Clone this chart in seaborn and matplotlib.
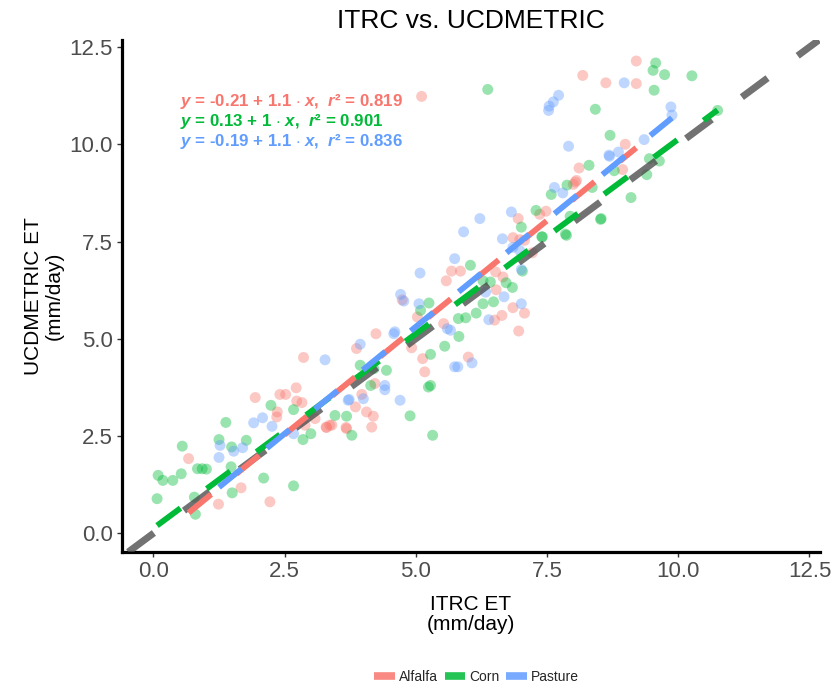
import matplotlib
matplotlib.use("Agg")
import matplotlib.pyplot as plt
from matplotlib.lines import Line2D
import seaborn as sns
import pandas as pd
import numpy as np

# ---------------- data ----------------
crops = ["Alfalfa", "Corn", "Pasture"]
colors = ["#F8766D", "#00BA38", "#619CFF"]

alfalfa_x = [0.67, 1.24, 1.67, 2.22, 1.94, 2.41, 2.52, 2.72, 2.73, 2.83, 2.36, 2.35, 2.89, 3.08, 3.30,
             3.40, 3.68, 5.03, 4.24, 3.87, 2.86, 5.13, 5.17, 4.92, 4.22, 3.97, 3.85, 4.06, 4.19, 4.16,
             3.67, 3.29, 3.36, 4.74, 6.85, 7.07, 7.22, 5.68, 5.85, 6.52, 6.66, 5.58, 6.53, 6.85, 7.07,
             6.50, 6.64, 5.53, 6.96, 6.00, 8.11, 8.06, 8.00, 7.48, 7.36, 6.95, 6.98, 9.20, 8.18, 8.62,
             9.20, 8.99, 8.94, 8.04, 5.11]
alfalfa_y = [1.92, 0.75, 1.17, 0.81, 3.49, 3.57, 3.57, 3.74, 3.40, 3.36, 3.12, 2.99, 2.78, 2.95, 2.72,
             2.78, 2.69, 5.56, 5.13, 4.75, 4.52, 4.49, 4.15, 4.77, 3.85, 3.57, 3.25, 3.12, 3.01, 2.73,
             2.72, 2.73, 2.78, 6.00, 7.60, 7.53, 7.21, 6.74, 6.74, 6.72, 6.59, 6.49, 6.26, 5.80, 5.66,
             5.48, 5.60, 5.39, 5.20, 4.53, 9.39, 9.07, 8.97, 8.28, 8.20, 8.09, 7.55, 12.14, 11.77, 11.58,
             11.56, 10.00, 9.35, 9.03, 11.23]

corn_x = [0.55, 0.09, 0.18, 0.37, 0.53, 0.84, 0.93, 1.01, 0.07, 0.78, 0.80, 1.38, 1.25, 1.49, 1.77,
          1.48, 1.50, 2.10, 2.67, 2.24, 2.67, 2.85, 3.00, 3.46, 3.78, 5.09, 5.24, 3.94, 4.20, 4.44,
          3.68, 4.89, 4.14, 7.40, 7.87, 6.04, 7.03, 6.28, 6.42, 6.72, 6.84, 5.25, 6.28, 6.48, 6.15,
          5.81, 5.95, 5.82, 5.55, 5.28, 5.28, 5.32, 8.42, 8.70, 8.30, 8.78, 7.88, 7.58, 8.36, 7.29,
          8.53, 7.94, 7.01, 7.41, 7.85, 9.57, 9.52, 9.74, 10.26, 9.54, 10.75, 9.45, 9.64, 9.40, 9.10,
          8.52, 6.37]
corn_y = [2.24, 1.49, 1.36, 1.36, 1.53, 1.66, 1.66, 1.65, 0.89, 0.93, 0.49, 2.85, 2.41, 2.22, 2.39,
          1.71, 1.04, 1.42, 1.22, 3.29, 3.18, 2.41, 2.56, 3.03, 2.52, 5.73, 3.76, 4.32, 4.23, 4.19,
          3.01, 3.02, 3.80, 7.62, 7.66, 6.89, 6.74, 6.49, 6.46, 6.44, 6.32, 5.92, 5.90, 5.95, 5.66,
          5.52, 5.54, 5.06, 4.81, 4.60, 3.80, 2.52, 10.90, 10.23, 9.46, 9.32, 8.95, 8.71, 8.89, 8.30,
          8.09, 8.15, 7.87, 7.62, 7.69, 12.09, 11.90, 11.79, 11.76, 11.39, 10.87, 9.63, 9.57, 9.22, 8.63,
          8.07, 11.41]

pasture_x = [1.27, 1.25, 1.53, 1.70, 1.91, 2.08, 2.26, 2.67, 3.71, 5.08, 4.71, 4.77, 5.06, 4.58, 3.94,
             3.27, 4.41, 4.00, 3.73, 4.70, 5.91, 6.65, 6.98, 5.74, 7.01, 6.33, 6.68, 7.01, 6.39, 5.60,
             5.66, 4.60, 5.74, 5.80, 6.07, 4.41, 7.53, 7.91, 8.68, 7.64, 7.80, 6.82, 6.22, 6.85, 8.97,
             7.72, 7.62, 7.54, 9.86, 9.88, 9.35, 8.86, 8.69]
pasture_y = [2.26, 1.95, 2.11, 2.20, 2.84, 2.97, 2.75, 2.56, 3.42, 6.69, 6.14, 5.97, 5.90, 5.13, 4.86,
             4.46, 3.69, 3.46, 3.44, 3.42, 7.75, 7.57, 7.27, 7.06, 6.78, 6.20, 6.08, 5.90, 5.49, 5.26,
             5.22, 5.18, 4.28, 4.28, 4.38, 3.80, 10.87, 9.95, 9.72, 8.89, 8.75, 8.26, 8.09, 7.35, 11.58,
             11.26, 11.09, 10.98, 10.96, 10.75, 10.12, 9.80, 9.69]

intercepts = [-0.21, 0.13, -0.19]
slopes = [1.1, 1.0, 1.1]
r2 = [0.819, 0.901, 0.836]
eq_labels = [r"$\mathit{y}$ = -0.21 + 1.1 $\cdot$ $\mathit{x}$,  $\mathit{r}$² = 0.819",
             r"$\mathit{y}$ = 0.13 + 1 $\cdot$ $\mathit{x}$,  $\mathit{r}$² = 0.901",
             r"$\mathit{y}$ = -0.19 + 1.1 $\cdot$ $\mathit{x}$,  $\mathit{r}$² = 0.836"]

title = "ITRC vs. UCDMETRIC"
xlabel = "ITRC ET\n(mm/day)"
ylabel = "UCDMETRIC ET\n(mm/day)"
ticks = [0.0, 2.5, 5.0, 7.5, 10.0, 12.5]
tick_labels = ["0.0", "2.5", "5.0", "7.5", "10.0", "12.5"]

# ---------------- frames ----------------
xs = [alfalfa_x, corn_x, pasture_x]
ys = [alfalfa_y, corn_y, pasture_y]
df = pd.concat([pd.DataFrame({"ITRC": x, "UCD": y, "Crop": c}) for x, y, c in zip(xs, ys, crops)],
               ignore_index=True)

fit_rows = []
for c, x, b0, b1 in zip(crops, xs, intercepts, slopes):
    for xv in (min(x), max(x)):
        fit_rows.append({"ITRC": xv, "UCD": b0 + b1 * xv, "Crop": c})
fit = pd.DataFrame(fit_rows)

# ---------------- style ----------------
sns.set_theme(style="white")
plt.rcParams["font.family"] = ["Liberation Sans", "DejaVu Sans"]
plt.rcParams["mathtext.fontset"] = "custom"
plt.rcParams["mathtext.rm"] = "Liberation Sans:bold"
plt.rcParams["mathtext.it"] = "Liberation Sans:italic:bold"
plt.rcParams["mathtext.bf"] = "Liberation Sans:italic:bold"

fig = plt.figure(figsize=(8.35, 6.84), dpi=100)
ax = fig.add_axes([0.146, 0.193, 0.836, 0.7485])
pal = dict(zip(crops, colors))

sns.scatterplot(data=df, x="ITRC", y="UCD", hue="Crop", palette=pal, s=62, alpha=0.4,
                edgecolor="none", legend=False, ax=ax, zorder=2)

ax.axline((0, 0), slope=1, color="#4a4a4a", alpha=0.78, lw=5.0, dashes=(4.6, 5.4),
          solid_capstyle="butt", dash_capstyle="butt", zorder=3)

for c in crops:
    sub = fit[fit["Crop"] == c]
    ax.plot(sub["ITRC"], sub["UCD"], color=pal[c], lw=4.2, dashes=(5.0, 5.6),
            dash_capstyle="butt", zorder=4)

ax.set_xlim(-0.6, 12.7)
ax.set_ylim(-0.48, 12.68)
ax.set_xticks(ticks)
ax.set_xticklabels(tick_labels)
ax.set_yticks(ticks)
ax.set_yticklabels(tick_labels)

for side in ["top", "right"]:
    ax.spines[side].set_visible(False)
for side in ["left", "bottom"]:
    ax.spines[side].set_color("black")
    ax.spines[side].set_linewidth(2.3)
ax.tick_params(axis="both", which="major", length=3.5, width=1.0, color="#333333",
               labelsize=16, labelcolor="#4D4D4D", pad=3, left=True, bottom=True)

ax.set_title(title, fontsize=19, color="black", pad=9)
ax.set_xlabel(xlabel, fontsize=15, color="black", labelpad=9, linespacing=1.1)
ax.set_ylabel(ylabel, fontsize=15, color="black", labelpad=4, linespacing=1.1)

eq_y = [0.879, 0.840, 0.802]
for lab, col, yy in zip(eq_labels, colors, eq_y):
    ax.text(0.083, yy, lab, transform=ax.transAxes, color=col, fontsize=12.2,
            fontweight="bold", ha="left", va="center", zorder=5)

handles = [Line2D([0], [0], color=col, lw=5.5, alpha=0.85, solid_capstyle="butt") for col in colors]
fig.legend(handles, crops, loc="center", bbox_to_anchor=(0.571, 0.010), ncol=3, frameon=False,
           fontsize=10, handlelength=1.5, handletextpad=0.3, columnspacing=0.45)

fig.savefig("out.png", dpi=100)
